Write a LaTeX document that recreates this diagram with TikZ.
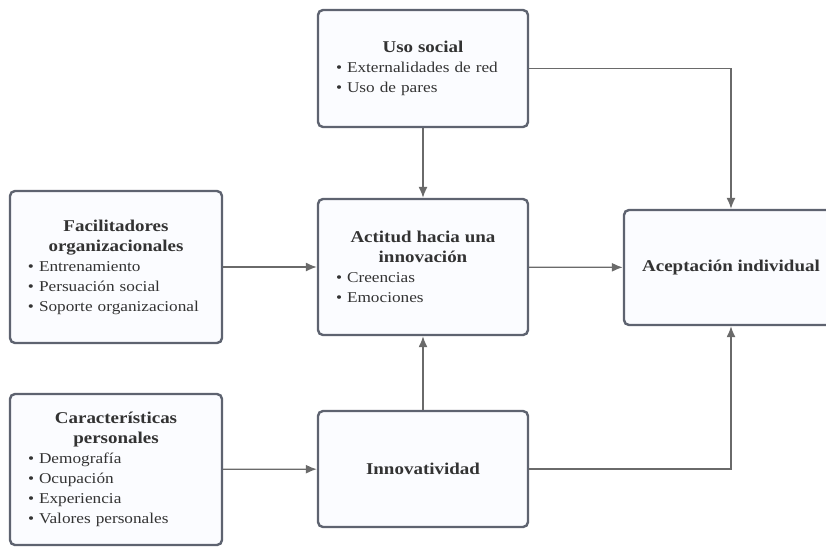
\documentclass[tikz,border=0pt]{standalone}
\usepackage{fontspec}
\setmainfont[FakeStretch=1.15]{Liberation Serif}
\usetikzlibrary{arrows.meta}
\definecolor{boxc}{HTML}{5E6370}
\definecolor{boxfill}{HTML}{FBFCFF}
\definecolor{linkc}{HTML}{6A6A6A}
\definecolor{txt}{HTML}{333333}
% centred bold heading line and bullet line inside a card
\newcommand{\ttl}[1]{\makebox[\linewidth]{\fontsize{16.5}{20}\selectfont\bfseries #1}}
\newcommand{\itm}[1]{\textbullet\ #1}
\begin{document}
\begin{tikzpicture}[x=1pt,y=-1pt,
  card/.style={draw=boxc, line width=2.4pt, rounded corners=5pt, fill=boxfill,
    inner sep=0pt, text=txt, font=\fontsize{15}{20}\selectfont},
  listcard/.style={card, align=left, text width=#1},
  link/.style={draw=linkc, line width=1.3pt, -{Latex[length=11pt,width=9pt]}}]
\useasboundingbox (0,0) rectangle (826,547);

% boxes
\node[listcard=174, minimum width=210, minimum height=117] (uso) at (423,68.5)
  {\ttl{Uso social}\\ \itm{Externalidades de red}\\ \itm{Uso de pares}};
\node[listcard=176, minimum width=212, minimum height=152] (fac) at (116,267)
  {\ttl{Facilitadores}\\ \ttl{organizacionales}\\ \itm{Entrenamiento}\\ \itm{Persuación social}\\ \itm{Soporte organizacional}};
\node[listcard=176, minimum width=212, minimum height=151] (car) at (116,469.5)
  {\ttl{Características}\\ \ttl{personales}\\ \itm{Demografía}\\ \itm{Ocupación}\\ \itm{Experiencia}\\ \itm{Valores personales}};
\node[listcard=174, minimum width=210, minimum height=136] (act) at (423,267)
  {\ttl{Actitud hacia una}\\ \ttl{innovación}\\ \itm{Creencias}\\ \itm{Emociones}};
\node[card, minimum width=210, minimum height=116] (inn) at (423,469)
  {\fontsize{16.5}{20}\selectfont\bfseries Innovatividad};
\node[card, minimum width=214, minimum height=115] (ace) at (731,267.5)
  {\fontsize{16.5}{20}\selectfont\bfseries Aceptación individual};

% connectors
\draw[link] (uso) -- (act);
\draw[link] (fac) -- (act);
\draw[link] (act) -- (ace);
\draw[link] (car) -- (inn);
\draw[link] (inn) -- (act);
\draw[link] (uso.east) -| (ace.north);
\draw[link] (inn.east) -| (ace.south);
\end{tikzpicture}
\end{document}
